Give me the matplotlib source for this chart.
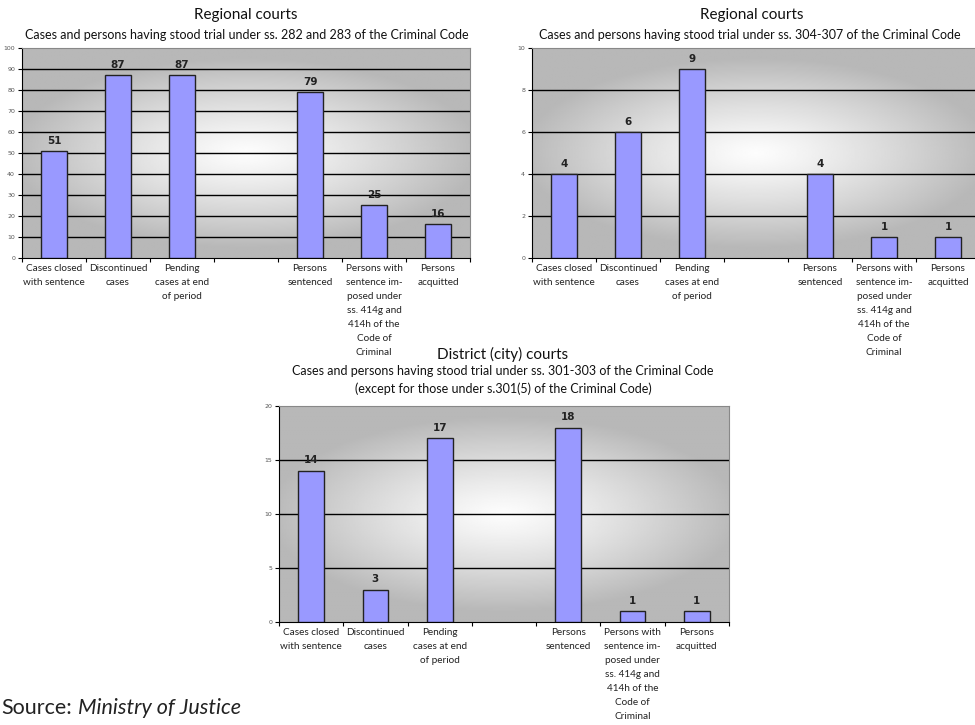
import numpy as np
import matplotlib.pyplot as plt

# categories (slot 3 is left empty as a separator)
categories = ['Cases closed\nwith sentence', 'Discontinued\ncases', 'Pending\ncases at end\nof period',
              'Persons\nsentenced',
              'Persons with\nsentence im-\nposed under\nss. 414g and\n414h of the\nCode of\nCriminal',
              'Persons\nacquitted']
slots = [0, 1, 2, 4, 5, 6]

regional_282 = [51, 87, 87, 79, 25, 16]
regional_304 = [4, 6, 9, 4, 1, 1]
district_301 = [14, 3, 17, 18, 1, 1]

FONT = 'Lato'
BAR = '#9999ff'
W, H = 975, 725


def gradient_bg(ax):
    xx, yy = np.meshgrid(np.linspace(-1, 1, 300), np.linspace(-1, 1, 200))
    r = np.clip(np.sqrt((xx * 0.95) ** 2 + (yy * 1.1) ** 2), 0, 1)
    img = 0.99 - 0.27 * r ** 1.2
    ax.imshow(img, cmap='gray', vmin=0, vmax=1, extent=[0, 1, 0, 1],
              transform=ax.transAxes, aspect='auto', zorder=0, interpolation='bilinear')


def bar_panel(rect, values, ymax, step):
    ax = fig.add_axes(rect)
    gradient_bg(ax)
    ax.bar(slots, values, width=0.4, color=BAR, edgecolor='#222222', linewidth=1.0, zorder=3)
    for s, v in zip(slots, values):
        ax.text(s, v + ymax * 0.025, str(v), ha='center', va='bottom', fontsize=7.5,
                fontweight='bold', color='#222222', zorder=4)
    ticks = np.arange(0, ymax + step, step)
    for t in ticks[1:-1]:
        ax.axhline(t, color='black', linewidth=1.0, zorder=1)
    ax.set_xlim(-0.5, 6.5)
    ax.set_ylim(0, ymax)
    ax.set_yticks(ticks)
    ax.set_yticklabels([str(int(t)) for t in ticks], fontsize=4.5, color='#555555')
    ax.tick_params(axis='y', length=3, width=0.8, pad=2)
    # x ticks sit on the category boundaries, labels in the middle of each slot
    ax.set_xticks(np.arange(-0.5, 7, 1))
    ax.set_xticklabels([])
    ax.tick_params(axis='x', length=3, width=0.8)
    for s, lab in zip(slots, categories):
        ax.text(s, -0.03, lab, transform=ax.get_xaxis_transform(), ha='center', va='top',
                fontsize=7.2, family=FONT, color='#222222', linespacing=1.7)
    for side in ['top', 'right']:
        ax.spines[side].set_color('#888888')
    ax.spines['left'].set_color('black')
    ax.spines['bottom'].set_color('black')
    return ax


def title(xc, yc, text, size):
    fig.text(xc / W, 1 - yc / H, text, ha='center', va='center', family=FONT,
             fontsize=size, color='#111111')


fig = plt.figure(figsize=(9.75, 7.25), dpi=100)

bar_panel([22 / W, 1 - 258 / H, 448 / W, 210 / H], regional_282, 100, 10)
bar_panel([532 / W, 1 - 258 / H, 448 / W, 210 / H], regional_304, 10, 2)
bar_panel([279 / W, 1 - 622 / H, 450 / W, 216 / H], district_301, 20, 5)

title(246, 15, 'Regional courts', 11)
title(247, 35, 'Cases and persons having stood trial under ss. 282 and 283 of the Criminal Code', 9)
title(752, 15, 'Regional courts', 11)
title(750, 35, 'Cases and persons having stood trial under ss. 304-307 of the Criminal Code', 9)
title(503, 354, 'District (city) courts', 11)
title(503, 371, 'Cases and persons having stood trial under ss. 301-303 of the Criminal Code', 9)
title(503, 389, '(except for those under s.301(5) of the Criminal Code)', 9)

src = fig.text(1 / W, 1 - 708 / H, 'Source:', family=FONT, fontsize=15.5, va='center', color='#222222')
fig.canvas.draw()
bb = src.get_window_extent()
fig.text((bb.x1 + 6) / W, 1 - 708 / H, 'Ministry of Justice', family=FONT, fontsize=15.5,
         style='italic', va='center', color='#222222')

fig.savefig('out.png', dpi=100)
